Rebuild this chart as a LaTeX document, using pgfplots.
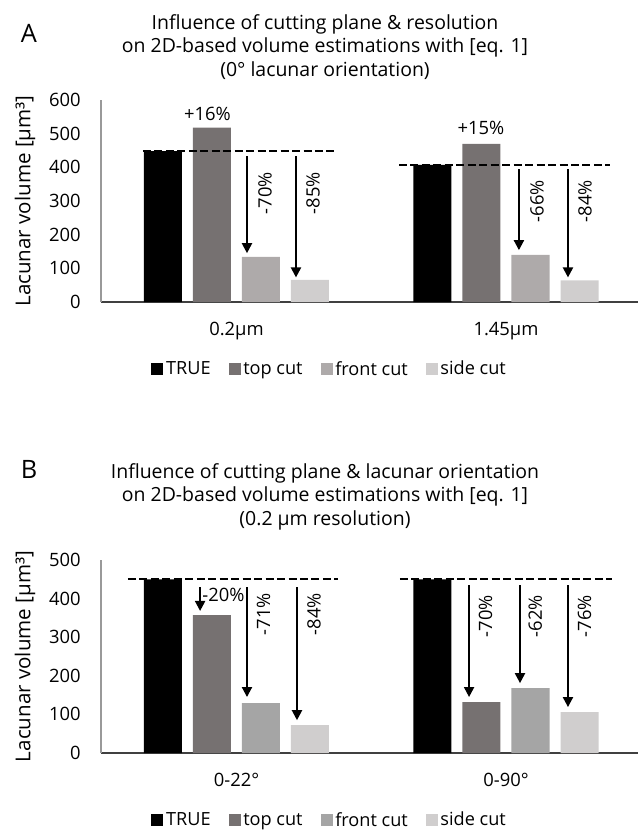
\documentclass[border=0pt]{standalone}
\usepackage{fontspec}
\setmainfont{Open Sans}
\usepackage{pgfplots}
\usepackage{pgfplotstable}
\pgfplotsset{compat=1.18}
\usetikzlibrary{arrows.meta}
\definecolor{cTrue}{HTML}{000000}
\definecolor{cTop}{HTML}{767171}
\definecolor{cFrontA}{HTML}{AEAAAA}
\definecolor{cFrontB}{HTML}{A5A5A5}
\definecolor{cSide}{HTML}{D0CECE}

\pgfplotstableread{
x true top front side
0 448 518 134 66
1 407 470 140 64
}\dataA
\pgfplotstableread{
x true top front side
0 450 357 129 72
1 450 132 168 106
}\dataB

\newcommand\fs{\fontsize{13.8}{16.6}\selectfont}
\newcommand\fst{\fontsize{14.6}{17.6}\selectfont}
\newcommand\fsl{\fontsize{13.6}{16.4}\selectfont}
\newcommand\fsy{\fontsize{15.4}{18}\selectfont}

\pgfplotsset{
  mystyle/.style={
    scale only axis, width=402.75pt,
    xmin=-0.5027, xmax=1.4898,
    axis x line*=bottom, axis y line*=left,
    x axis line style={black!75, line width=0.8pt},
    y axis line style={black!40, line width=0.8pt},
    xtick={0,1}, major tick length=0pt,
    tick label style={font=\fs},
    /pgf/number format/assume math mode=true,
    yticklabel style={inner sep=0pt, anchor=east, xshift=-15pt},
    xticklabel style={anchor=base, yshift=-24.75pt},
    ylabel={Lacunar volume [µm³]},
    ylabel style={font=\fsy, at={(axis description cs:-0.1415,0.5)}, anchor=center},
    legend style={draw=none, font=\fsl, legend columns=4, anchor=center,
      /tikz/every even column/.append style={column sep=11.5pt}},
    clip=false,
  },
  mybar/.style={ybar, bar width=28.5pt, draw=none},
  mydash/.style={forget plot, sharp plot, black, line width=1.9pt, dash pattern=on 6pt off 2.6pt},
  myarr/.style={forget plot, sharp plot, black, line width=1.5pt, -{Triangle[width=7.5pt,length=7.5pt]}},
}

\begin{document}
\begin{tikzpicture}
\path[use as bounding box] (0,0) rectangle (478.5pt,-622.5pt);

% Panel A
\node[font=\fontsize{19}{22}\selectfont] at (21.75pt,-25pt) {A};
\node[font=\fst, align=center] at (243.75pt,-35.25pt) {Influence of cutting plane \& resolution\\on 2D-based volume estimations with [eq. 1]\\(0° lacunar orientation)};
\begin{axis}[mystyle,
  at={(75.75pt,-226.5pt)}, anchor=south west,
  height=151.5pt, ymin=0, ymax=600, ytick={0,100,...,600},
  xticklabels={0.2µm,1.45µm},
  legend style={at={(0.4264,-0.332)}},
  legend image code/.code={\fill[#1] (0pt,-4.5pt) rectangle (9pt,4.5pt);},
]
\addplot[mybar, bar shift=-55.125pt, fill=cTrue] table[x=x,y=true]{\dataA};
\addplot[mybar, bar shift=-18.375pt, fill=cTop] table[x=x,y=top]{\dataA};
\addplot[mybar, bar shift=18.375pt, fill=cFrontA] table[x=x,y=front]{\dataA};
\addplot[mybar, bar shift=55.125pt, fill=cSide] table[x=x,y=side]{\dataA};
\legend{TRUE,top cut,front cut,side cut}
\addplot[mydash] coordinates {(-0.347,448) (0.3655,448)};
\addplot[mydash] coordinates {(0.603,407) (1.386,407)};
\addplot[myarr] coordinates {(0.039,433) (0.039,145)};
\addplot[myarr] coordinates {(0.2208,433) (0.2208,73)};
\addplot[myarr] coordinates {(1.048,394) (1.048,154)};
\addplot[myarr] coordinates {(1.230,394) (1.230,73)};
\node[font=\fs, rotate=90] at (axis cs:0.106,323) {-70\%};
\node[font=\fs, rotate=90] at (axis cs:0.284,323) {-85\%};
\node[font=\fs, rotate=90] at (axis cs:1.115,299) {-66\%};
\node[font=\fs, rotate=90] at (axis cs:1.293,299) {-84\%};
\node[font=\fs] at (axis cs:-0.108,560) {+16\%};
\node[font=\fs] at (axis cs:0.907,516) {+15\%};
\end{axis}

% Panel B
\node[font=\fontsize{19}{22}\selectfont] at (21.75pt,-352pt) {B};
\node[font=\fst, align=center] at (243.75pt,-372.4pt) {Influence of cutting plane \& lacunar orientation\\on 2D-based volume estimations with [eq. 1]\\(0.2 µm resolution)};
\begin{axis}[mystyle,
  at={(75.75pt,-564.75pt)}, anchor=south west,
  height=144.75pt, ymin=0, ymax=500, ytick={0,100,...,500},
  xticklabels={0-22°,0-90°},
  legend style={at={(0.4264,-0.3475)}},
  legend image code/.code={\fill[#1] (0pt,-4.5pt) rectangle (9pt,4.5pt);},
]
\addplot[mybar, bar shift=-55.125pt, fill=cTrue] table[x=x,y=true]{\dataB};
\addplot[mybar, bar shift=-18.375pt, fill=cTop] table[x=x,y=top]{\dataB};
\addplot[mybar, bar shift=18.375pt, fill=cFrontB] table[x=x,y=front]{\dataB};
\addplot[mybar, bar shift=55.125pt, fill=cSide] table[x=x,y=side]{\dataB};
\legend{TRUE,top cut,front cut,side cut}
\addplot[mydash] coordinates {(-0.4026,451) (0.3766,451)};
\addplot[mydash] coordinates {(0.6067,451) (1.3933,451)};
\addplot[myarr] coordinates {(-0.135,430) (-0.135,368)};
\addplot[myarr] coordinates {(0.039,430) (0.039,145)};
\addplot[myarr] coordinates {(0.2245,430) (0.2245,85)};
\addplot[myarr] coordinates {(0.863,435) (0.863,145)};
\addplot[myarr] coordinates {(1.052,435) (1.052,181)};
\addplot[myarr] coordinates {(1.230,435) (1.230,119)};
\node[font=\fs] at (axis cs:-0.048,409) {-20\%};
\node[font=\fs, rotate=90] at (axis cs:0.1,360) {-71\%};
\node[font=\fs, rotate=90] at (axis cs:0.2876,360) {-84\%};
\node[font=\fs, rotate=90] at (axis cs:0.924,355) {-70\%};
\node[font=\fs, rotate=90] at (axis cs:1.109,355) {-62\%};
\node[font=\fs, rotate=90] at (axis cs:1.291,355) {-76\%};
\end{axis}
\end{tikzpicture}
\end{document}
